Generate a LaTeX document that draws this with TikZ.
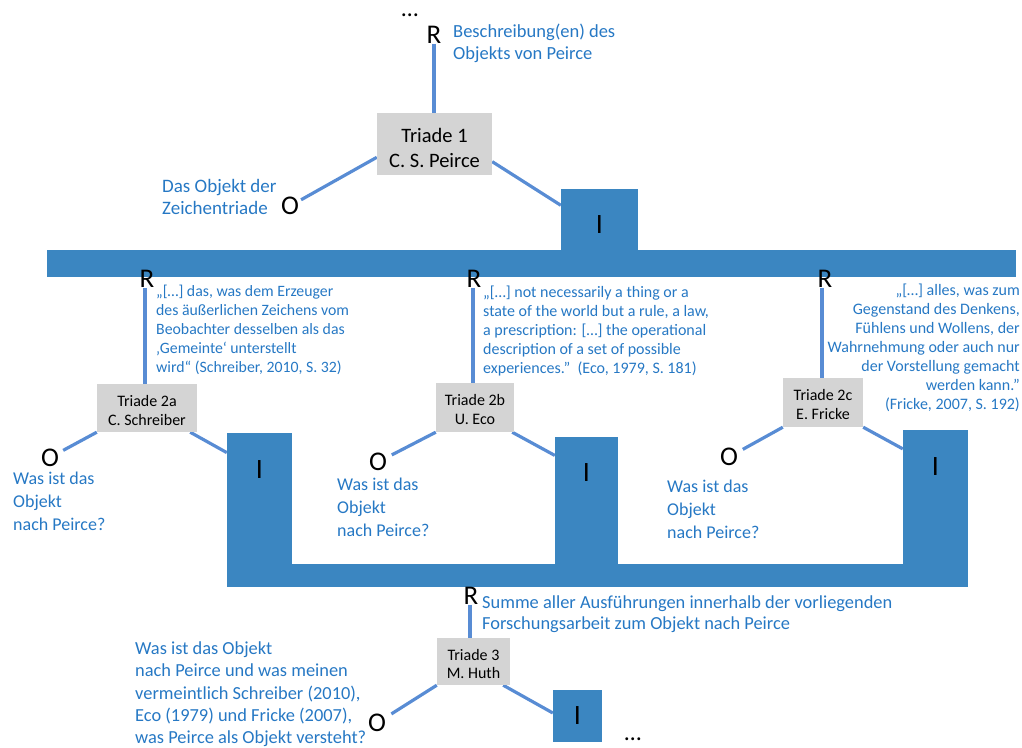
\documentclass[tikz,border=0pt]{standalone}
\usepackage{fontspec}
\setmainfont{Carlito}
\usetikzlibrary{calc,backgrounds}
\definecolor{barblue}{RGB}{59,134,193}
\definecolor{linblue}{RGB}{88,140,212}
\definecolor{txtblue}{RGB}{38,120,196}
\definecolor{boxgray}{RGB}{212,212,212}
\begin{document}
\begin{tikzpicture}[x=1pt,y=-1pt,
  conn/.style={draw=linblue, line width=3.2pt},
  tribox/.style={fill=boxgray, inner sep=0pt, align=center, text=black},
  ibox/.style={fill=barblue, inner sep=0pt, text=black, font=\fontsize{28}{28}\selectfont},
  letter/.style={inner sep=0pt, text=black, font=\fontsize{27}{27}\selectfont},
  oletter/.style={inner sep=0pt, text=black, font=\fontsize{27}{27}\selectfont},
  bluetxt/.style={inner sep=0pt, align=left, text=txtblue},
  quote/.style={inner sep=0pt, text=txtblue, font=\fontsize{15.8}{19}\selectfont},
  dots/.style={inner sep=0pt, text=black, font=\fontsize{24}{24}\selectfont},
]
\useasboundingbox (0,0) rectangle (1022,747);
% bars
\fill[barblue] (47,250) rectangle (1016,277);
\fill[barblue] (227,564) rectangle (968,587);
\fill[barblue] (227,433) rectangle (292,564);
\fill[barblue] (555,437) rectangle (618,564);
\fill[barblue] (903,430) rectangle (968,564);

% top triad
\node[dots] (dt) at (410,15) {…};
\node[letter] (Rt) at (434,35) {R};
\node[bluetxt, anchor=north west, font=\fontsize{18.5}{22}\selectfont] (dTop) at (453,24) {Beschreibung(en) des\\Objekts von Peirce};
\node[tribox, minimum width=115pt, minimum height=62pt, font=\fontsize{20.5}{25}\selectfont] (T1) at (434.5,144) {\rule{0pt}{22.5pt}Triade 1\\C. S. Peirce};
\node[oletter] (O1) at (290,206) {O};
\node[bluetxt, anchor=north west, font=\fontsize{19}{22}\selectfont] (dO1) at (162,179) {Das Objekt der\\Zeichentriade};
\node[ibox, minimum width=77pt, minimum height=72pt] (I1) at (599.5,225) {I};

% second row
\node[letter] (R2a) at (147,279) {R};
\node[letter] (R2b) at (474,279) {R};
\node[letter] (R2c) at (825,279) {R};
\node[quote, anchor=north west, align=left] (Q2a) at (156,285) {„[…] das, was dem Erzeuger\\des äußerlichen Zeichens vom\\Beobachter desselben als das\\‚Gemeinte‘ unterstellt\\wird“ (Schreiber, 2010, S. 32)};
\node[quote, anchor=north west, align=left, font=\fontsize{16}{19}\selectfont] (Q2b) at (483,286) {„[…] not necessarily a thing or a\\state of the world but a rule, a law,\\a prescription: […] the operational\\description of a set of possible\\experiences.”\ \ (Eco, 1979, S. 181)};
\node[quote, anchor=north east, align=right, font=\fontsize{16}{19}\selectfont] (Q2c) at (1020,284) {„[…] alles, was zum\\Gegenstand des Denkens,\\Fühlens und Wollens, der\\Wahrnehmung oder auch nur\\der Vorstellung gemacht\\werden kann.”\\(Fricke, 2007, S. 192)};
\node[tribox, minimum width=100pt, minimum height=48pt, font=\fontsize{16}{19}\selectfont] (T2a) at (147,408) {\rule{0pt}{15.5pt}Triade 2a\\C. Schreiber};
\node[tribox, minimum width=78pt, minimum height=49pt, font=\fontsize{16}{19}\selectfont] (T2b) at (475,407.5) {\rule{0pt}{15.5pt}Triade 2b\\U. Eco};
\node[tribox, minimum width=80pt, minimum height=49pt, font=\fontsize{16}{19}\selectfont] (T2c) at (823,402.5) {\rule{0pt}{15.5pt}Triade 2c\\E. Fricke};
\node[oletter] (O2a) at (50,457.5) {O};
\node[oletter] (O2b) at (378,462) {O};
\node[oletter] (O2c) at (729,457) {O};
\node[bluetxt, anchor=north west, font=\fontsize{18}{23}\selectfont] (W2a) at (13,472) {Was ist das\\Objekt\\nach Peirce?};
\node[bluetxt, anchor=north west, font=\fontsize{18}{23}\selectfont] (W2b) at (337,477.5) {Was ist das\\Objekt\\nach Peirce?};
\node[bluetxt, anchor=north west, font=\fontsize{18}{23}\selectfont] (W2c) at (667,480) {Was ist das\\Objekt\\nach Peirce?};
\node[ibox, minimum width=65pt, minimum height=74pt] (I2a) at (259.5,470) {I};
\node[ibox, minimum width=63pt, minimum height=72pt] (I2b) at (586.5,473) {I};
\node[ibox, minimum width=65pt, minimum height=74pt] (I2c) at (935.5,467) {I};

% third row
\node[letter] (R3) at (471,596) {R};
\node[bluetxt, anchor=north west, font=\fontsize{18.4}{21}\selectfont] (d3) at (482,595.5) {Summe aller Ausführungen innerhalb der vorliegenden\\Forschungsarbeit zum Objekt nach Peirce};
\node[tribox, minimum width=73pt, minimum height=47pt, font=\fontsize{16}{18}\selectfont] (T3) at (473.5,661.5) {\rule{0pt}{15.5pt}Triade 3\\M. Huth};
\node[oletter] (O3) at (377,723) {O};
\node[bluetxt, anchor=north west, font=\fontsize{18.4}{22.3}\selectfont] (W3) at (135,641.5) {Was ist das Objekt\\nach Peirce und was meinen\\vermeintlich Schreiber (2010),\\Eco (1979) und Fricke (2007),\\was Peirce als Objekt versteht?};
\node[ibox, minimum width=49pt, minimum height=52pt] (I3) at (577.5,716) {I};
\node[dots] (db) at (633,739) {…};

% connectors
\begin{scope}[on background layer]
\draw[conn] (Rt.south) -- (Rt.south |- T1.north);
\draw[conn, shorten >=12.7pt] (T1.193.7) -- (O1.center);
\draw[conn] (T1.-17) -- (I1.153.7);
\draw[conn] ($(R2a.south)+(-2,0)$) -- ($(R2a.south |- T2a.north)+(-2,0)$);
\draw[conn] ($(R2b.south)+(-1,0)$) -- ($(R2b.south |- T2b.north)+(-1,0)$);
\draw[conn] ($(R2c.south)+(-3,0)$) -- ($(R2c.south |- T2c.north)+(-3,0)$);
\draw[conn, shorten >=15pt] (T2a.south west) -- (O2a.center);
\draw[conn] ($(T2a.south east)+(-7,0)$) -- (I2a.152.4);
\draw[conn, shorten >=15.5pt] (T2b.south west) -- (O2b.center);
\draw[conn] ($(T2b.south east)+(-2,0)$) -- (I2b.151.6);
\draw[conn, shorten >=15.8pt] (T2c.south west) -- (O2c.center);
\draw[conn] (T2c.south east) -- (I2c.151);
\draw[conn] ($(R3.south)+(-1,0)$) -- ($(R3.south |- T3.north)+(-1,0)$);
\draw[conn, shorten >=17pt] (T3.south west) -- (O3.center);
\draw[conn] ($(T3.south east)+(-7,0)$) -- (I3.173);
\end{scope}
\end{tikzpicture}
\end{document}
